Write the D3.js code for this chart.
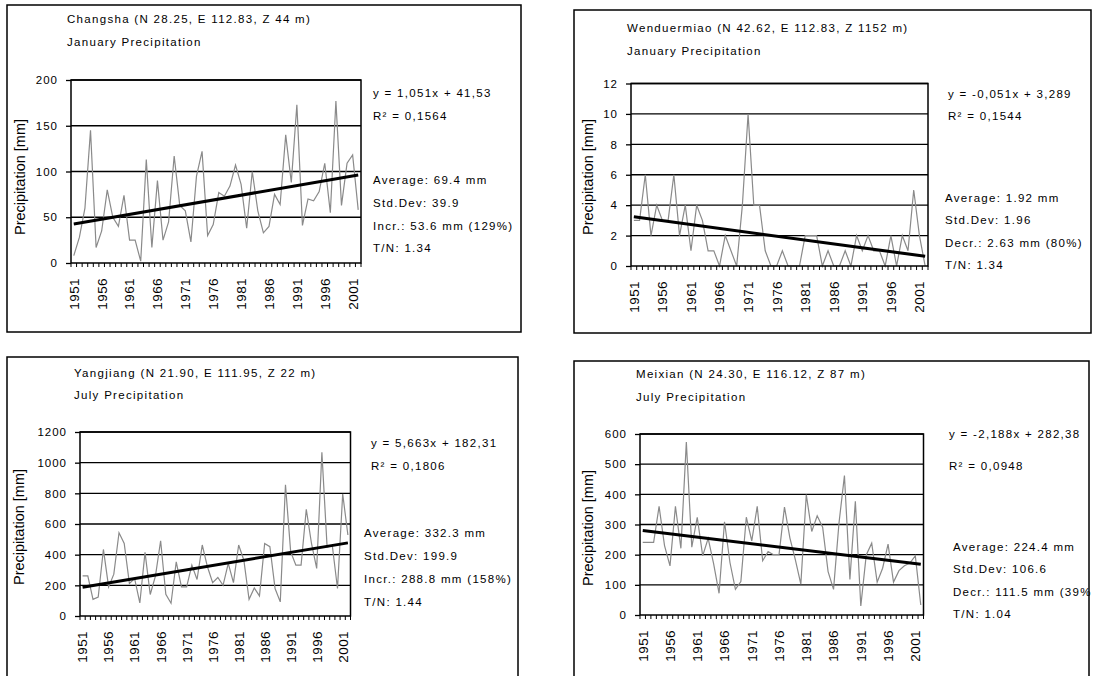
<!DOCTYPE html>
<html>
<head>
<meta charset="utf-8">
<script src="https://cdn.jsdelivr.net/npm/d3@7/dist/d3.min.js"></script>
<style>
  body { margin: 0; background: #fff; }
  svg { display: block; font-family: "Liberation Sans", Arial, sans-serif; }
</style>
</head>
<body>
<div id="container"></div>
<script>
/* DATA */
const years = [1951,1952,1953,1954,1955,1956,1957,1958,1959,1960,1961,1962,1963,1964,1965,1966,1967,1968,1969,1970,
  1971,1972,1973,1974,1975,1976,1977,1978,1979,1980,1981,1982,1983,1984,1985,1986,1987,1988,1989,1990,
  1991,1992,1993,1994,1995,1996,1997,1998,1999,2000,2001,2002]
const tickYears = [1951,1956,1961,1966,1971,1976,1981,1986,1991,1996,2001]

const changshaJan = [8,28,60,145,17,35,80,50,40,74,25,25,2,113,17,90,25,45,117,63,57,23,95,122,30,42,
  77,73,84,107,86,38,100,57,33,40,75,64,140,88,173,41,70,68,78,109,55,177,63,109,118,58]
const wenduermiaoJan = [3,3,6,2,4,3,3,6,2,4,1,4,3,1,1,0,2,1,0,4,10,4,4,1,0,0,
  1,0,0,0,2,2,2,0,1,0,0,1,0,2,1,2,1,1,0,2,0,2,1,5,2,0]
const yangjiangJul = [262,262,109,124,434,190,273,543,473,212,244,85,415,140,260,491,142,83,353,190,190,332,238,463,321,218,
  251,200,343,218,463,364,109,183,131,473,452,179,92,855,419,332,332,696,473,310,1067,450,460,179,796,528]
const meixianJul = [241,241,241,360,230,163,360,221,573,225,324,196,254,170,72,309,174,85,111,324,246,360,180,210,200,200,
  358,255,183,102,399,277,329,291,144,85,305,462,118,377,30,199,238,109,155,235,109,147,163,172,196,33]

const stations = ["Changsha (N 28.25, E 112.83, Z 44 m)", "Wenduermiao (N 42.62, E 112.83, Z 1152 m)",
  "Yangjiang (N 21.90, E 111.95, Z 22 m)", "Meixian (N 24.30, E 116.12, Z 87 m)"]
const subtitles = ["January Precipitation", "January Precipitation", "July Precipitation", "July Precipitation"]
const yMax = [200, 12, 1200, 600]
const yStep = [50, 2, 200, 100]
const trendSlope = [1.051, -0.051, 5.663, -2.188]
const trendIntercept = [41.53, 3.289, 182.31, 282.38]
const eqLabels = ["y = 1,051x + 41,53", "y = -0,051x + 3,289", "y = 5,663x + 182,31", "y = -2,188x + 282,38"]
const r2Labels = ["R² = 0,1564", "R² = 0,1544", "R² = 0,1806", "R² = 0,0948"]
// the last one is cut at the page edge in the original
const statLabels = [
  ["Average: 69.4 mm", "Std.Dev: 39.9", "Incr.: 53.6 mm (129%)", "T/N: 1.34"],
  ["Average: 1.92 mm", "Std.Dev: 1.96", "Decr.: 2.63 mm (80%)", "T/N: 1.34"],
  ["Average: 332.3 mm", "Std.Dev: 199.9", "Incr.: 288.8 mm (158%)", "T/N: 1.44"],
  ["Average: 224.4 mm", "Std.Dev: 106.6", "Decr.: 111.5 mm (39%", "T/N: 1.04"]
]
const series = [changshaJan, wenduermiaoJan, yangjiangJul, meixianJul]

/* CONSTANTS AND GLOBALS */
const width = 1097, height = 676
// box [x0,y0,x1,y1], plot [left,top,right,bottom], text positions
const layout = [
  { box: [7, 5, 521, 332], plot: [71, 80, 361, 263], title: [67, 23, 46], axisTitle: [20, 177],
    eq: [373, 97, 120], stats: [373, 184, 207, 230, 252] },
  { box: [574, 10, 1091, 333], plot: [631, 83.5, 928, 266], title: [627, 32, 55], axisTitle: [588, 177],
    eq: [948, 98, 120], stats: [945, 202, 224, 247, 269] },
  { box: [7, 357, 518, 700], plot: [80, 432, 350.5, 616], title: [74, 377, 399], axisTitle: [19, 527],
    eq: [371, 447, 470], stats: [364, 537, 560, 583, 606] },
  { box: [574, 361, 1089, 700], plot: [640, 434, 923.5, 615], title: [636, 378, 401], axisTitle: [588, 528],
    eq: [949, 438, 470], stats: [953, 551, 573, 596, 618] }
]

/* HTML ELEMENTS */
const svg = d3.select("#container")
  .append("svg")
  .attr("width", width)
  .attr("height", height)

series.forEach((values, k) => {
  const lay = layout[k]
  const [L, T, R, B] = lay.plot
  const g = svg.append("g")

  // outer frame
  g.append("rect")
    .attr("x", lay.box[0]).attr("y", lay.box[1])
    .attr("width", lay.box[2] - lay.box[0]).attr("height", lay.box[3] - lay.box[1])
    .attr("fill", "none").attr("stroke", "#000").attr("stroke-width", 1.5)

  /* SCALES */
  const xScale = d3.scaleBand().domain(years).range([L, R])
  const cx = yr => xScale(yr) + xScale.bandwidth() / 2
  const yScale = d3.scaleLinear().domain([0, yMax[k]]).range([B, T])
  const yTicks = d3.range(0, yMax[k] + yStep[k] / 2, yStep[k])

  // gridlines
  g.selectAll("line.grid")
    .data(yTicks.slice(1))
    .join("line")
    .attr("class", "grid")
    .attr("x1", L).attr("x2", R)
    .attr("y1", d => yScale(d)).attr("y2", d => yScale(d))
    .attr("stroke", "#000").attr("stroke-width", 1.3)

  // y axis
  const yAxis = g.append("g")
    .attr("transform", `translate(${L},0)`)
    .call(d3.axisLeft(yScale).tickValues(yTicks).tickFormat(d3.format("d"))
      .tickSize(5).tickPadding(8).tickSizeOuter(0))
  yAxis.select(".domain").remove()
  yAxis.selectAll("line").attr("stroke", "#000").attr("stroke-width", 1.3)
  yAxis.selectAll("text")
    .attr("font-size", 11.5).attr("letter-spacing", 1).attr("fill", "#000")
    .attr("font-family", "Liberation Sans, Arial, sans-serif")

  // x axis: category boundary ticks
  g.selectAll("line.xtick")
    .data(years.concat(["end"]))
    .join("line")
    .attr("class", "xtick")
    .attr("x1", d => d === "end" ? R : xScale(d)).attr("x2", d => d === "end" ? R : xScale(d))
    .attr("y1", B).attr("y2", B + 4)
    .attr("stroke", "#000").attr("stroke-width", 1)

  const xAxis = g.append("g")
    .attr("transform", `translate(0,${B})`)
    .call(d3.axisBottom(xScale).tickValues(tickYears).tickSize(0))
  xAxis.select(".domain").remove()
  xAxis.selectAll("text")
    .attr("transform", "rotate(-90)")
    .attr("x", -15).attr("y", 0).attr("dy", "0.36em")
    .attr("text-anchor", "end")
    .attr("font-size", 13.5).attr("letter-spacing", 0.4).attr("fill", "#000")
    .attr("font-family", "Liberation Sans, Arial, sans-serif")

  // series line
  const line = d3.line().x((d, i) => cx(years[i])).y(d => yScale(d))
  g.append("path")
    .datum(values)
    .attr("d", line)
    .attr("fill", "none").attr("stroke", "#8a8a8a").attr("stroke-width", 1.2)

  // linear trend from the printed equation
  const ends = [0, years.length - 1]
  g.append("path")
    .datum(ends)
    .attr("d", d3.line().x(i => cx(years[i])).y(i => yScale(trendSlope[k] * (i + 1) + trendIntercept[k])))
    .attr("fill", "none").attr("stroke", "#000").attr("stroke-width", 3)

  // plot frame
  g.append("rect")
    .attr("x", L).attr("y", T).attr("width", R - L).attr("height", B - T)
    .attr("fill", "none").attr("stroke", "#000").attr("stroke-width", 1.5)

  // texts
  const txt = (x, y, s) => g.append("text")
    .attr("x", x).attr("y", y).text(s)
    .attr("font-size", 11.5).attr("letter-spacing", 1.3).attr("fill", "#000")

  txt(lay.title[0], lay.title[1], stations[k])
  txt(lay.title[0], lay.title[2], subtitles[k])
  txt(lay.eq[0], lay.eq[1], eqLabels[k])
  txt(lay.eq[0], lay.eq[2], r2Labels[k])
  statLabels[k].forEach((s, j) => txt(lay.stats[0], lay.stats[j + 1], s))

  g.append("text")
    .attr("transform", `translate(${lay.axisTitle[0]},${lay.axisTitle[1]}) rotate(-90)`)
    .attr("text-anchor", "middle").attr("dy", "0.35em")
    .attr("font-size", 14.5).attr("fill", "#000")
    .text("Precipitation [mm]")
})
</script>
</body>
</html>
